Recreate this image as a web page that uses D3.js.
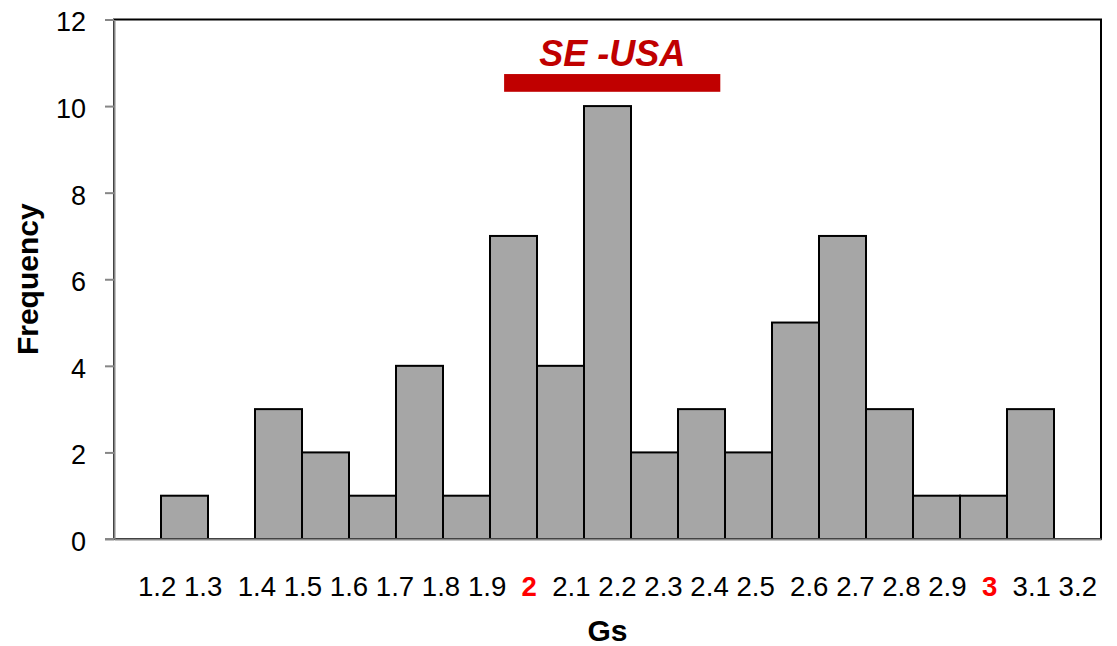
<!DOCTYPE html>
<html><head><meta charset="utf-8">
<script src="https://cdn.jsdelivr.net/npm/d3@7"></script>
<style>body{margin:0;background:#fff}svg{display:block}</style>
</head><body><svg id="c" width="1117" height="646"></svg>
<script>
// ---- data ----
const binStarts = [1.2,1.3,1.4,1.5,1.6,1.7,1.8,1.9,2.0,2.1,2.2,2.3,2.4,2.5,2.6,2.7,2.8,2.9,3.0];
const binWidth = 0.1;
const frequency = [1,0,3,2,1,4,1,7,4,10,2,3,2,5,7,3,1,1,3];
const yTicks = [0,2,4,6,8,10,12];
const xLabels = ["1.2","1.3","1.4","1.5","1.6","1.7","1.8","1.9","2","2.1","2.2","2.3","2.4","2.5","2.6","2.7","2.8","2.9","3","3.1","3.2"];
const xLabelSpaces = [0,1,2,1,1,1,1,1,2,2,1,1,1,1,2,1,1,1,2,2,1];
const xLabelHighlight = ["2","3"];
const seUSA = {label:"SE -USA", from:1.93, to:2.39, low:10.33, high:10.74};
const xDomain = [1.1, 3.2];
const yDomain = [0, 12];

// ---- layout ----
const svg = d3.select("#c");
const L = 114, R = 1101, T = 19.5, B = 539;
const font = "'Liberation Sans', Arial, sans-serif";
const x = d3.scaleLinear().domain(xDomain).range([L, R]);
const y = d3.scaleLinear().domain(yDomain).range([B, T]);
const axisGray = "#868686";

// plot border (top/right black)
svg.append("rect").attr("x", L).attr("y", T).attr("width", R - L).attr("height", B - T)
  .attr("fill", "none").attr("stroke", "#000").attr("stroke-width", 2);

// bars
const bars = binStarts.map((s, i) => ({x0: s, x1: s + binWidth, v: frequency[i]})).filter(d => d.v > 0);
svg.append("g").selectAll("rect").data(bars).join("rect")
  .attr("x", d => x(d.x0)).attr("width", d => x(d.x1) - x(d.x0))
  .attr("y", d => y(d.v)).attr("height", d => y(0) - y(d.v))
  .attr("fill", "#A6A6A6").attr("stroke", "#000").attr("stroke-width", 2);

// y axis
const yAxis = svg.append("g").attr("transform", `translate(${L},0)`)
  .call(d3.axisLeft(y).tickValues(yTicks).tickSize(9).tickPadding(19).tickSizeOuter(0));
yAxis.select(".domain").attr("stroke", axisGray).attr("stroke-width", 2);
yAxis.selectAll(".tick line").attr("stroke", axisGray).attr("stroke-width", 2);
yAxis.selectAll(".tick text").attr("font-family", font).attr("font-size", 27).attr("fill", "#000").attr("dy", "0.42em");

// x axis line
const xAxis = svg.append("g").attr("transform", `translate(0,${B})`)
  .call(d3.axisBottom(x).tickValues([]).tickSizeOuter(0));
xAxis.select(".domain").attr("stroke", axisGray).attr("stroke-width", 2);
svg.append("line").attr("x1", L - 9).attr("x2", L).attr("y1", B).attr("y2", B)
  .attr("stroke", axisGray).attr("stroke-width", 2);

// x labels, typed as one text line
const xt = svg.append("text").attr("x", x(binStarts[0]) - 23).attr("y", 596)
  .attr("font-family", font).attr("font-size", 27.6).attr("xml:space", "preserve")
  .style("white-space", "pre");
xLabels.forEach((lab, i) => {
  const hi = xLabelHighlight.includes(lab);
  xt.append("tspan").text(" ".repeat(xLabelSpaces[i]) + lab)
    .attr("fill", hi ? "#FF0000" : "#000").attr("font-weight", hi ? "bold" : "normal");
});

// axis titles
svg.append("text").attr("x", (L + R) / 2).attr("y", 641).attr("text-anchor", "middle")
  .attr("font-family", font).attr("font-size", 30).attr("font-weight", "bold").text("Gs");
svg.append("text").attr("transform", `translate(38,${(T + B) / 2}) rotate(-90)`).attr("text-anchor", "middle")
  .attr("font-family", font).attr("font-size", 30).attr("font-weight", "bold").text("Frequency");

// SE-USA annotation
svg.append("rect").attr("x", x(seUSA.from)).attr("width", x(seUSA.to) - x(seUSA.from))
  .attr("y", y(seUSA.high)).attr("height", y(seUSA.low) - y(seUSA.high)).attr("fill", "#C00000");
svg.append("text").attr("x", (x(seUSA.from) + x(seUSA.to)) / 2).attr("y", 66).attr("text-anchor", "middle")
  .attr("font-family", font).attr("font-size", 36).attr("font-weight", "bold").attr("font-style", "italic")
  .attr("fill", "#C00000").text(seUSA.label);
</script></body></html>
